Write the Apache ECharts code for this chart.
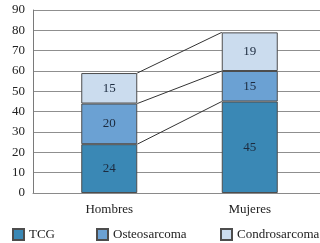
<!DOCTYPE html>
<html><head><meta charset="utf-8">
<script src="https://cdn.jsdelivr.net/npm/echarts@6/dist/echarts.min.js"></script>
<style>html,body{margin:0;padding:0;background:#fff}#c{width:320px;height:243px}</style>
</head><body><div id="c"></div>
<script>
var categories = ['Hombres', 'Mujeres'];
var seriesNames = ['TCG', 'Osteosarcoma', 'Condrosarcoma'];
var tcg = [24, 45];
var osteo = [20, 15];
var condro = [15, 19];
var yTicks = [0, 10, 20, 30, 40, 50, 60, 70, 80, 90];

var colors = ['#3a88b5', '#6ba1d3', '#cbdcee'];
var font = 'Liberation Serif';
var values = [tcg, osteo, condro];

// cumulative tops for connector lines
var connectors = [];
var cumH = 0, cumM = 0;
for (var i = 0; i < values.length; i++) {
  cumH += values[i][0]; cumM += values[i][1];
  connectors.push([0, cumH, cumM]);
}
var halfBar = 28;

var barSeries = values.map(function (v, i) {
  return {
    name: seriesNames[i], type: 'bar', stack: 'a', xAxisIndex: 1, yAxisIndex: 1,
    barWidth: 56, data: v,
    itemStyle: { color: colors[i], borderColor: '#4d4d4d', borderWidth: 1 },
    label: { show: true, position: 'inside', color: '#1c2b3f', fontFamily: font, fontSize: 13 }
  };
});

function legendAt(name, left) {
  return { data: [name], left: left, top: 228, padding: 0, icon: 'rect', itemWidth: 11, itemHeight: 11,
    textStyle: { fontFamily: font, fontSize: 13, color: '#222' } };
}

var option = {
  animation: false,
  grid: [
    { left: 33, right: 0, top: 10, bottom: 50 },
    { left: 39, right: -2, top: 10, bottom: 50 }
  ],
  xAxis: [
    { type: 'category', gridIndex: 0, data: [''], axisLine: { show: true, lineStyle: { color: '#8a8a8a' } }, axisTick: { show: false }, axisLabel: { show: false } },
    { type: 'category', gridIndex: 1, data: categories, axisLine: { show: false }, axisTick: { show: false },
      axisLabel: { color: '#222', fontFamily: font, fontSize: 13, margin: 10 } }
  ],
  yAxis: [
    { type: 'value', gridIndex: 0, min: yTicks[0], max: yTicks[yTicks.length - 1], interval: 10,
      axisLine: { show: true, lineStyle: { color: '#7a7a7a' } }, axisTick: { show: false },
      axisLabel: { color: '#222', fontFamily: font, fontSize: 13, margin: 8 },
      splitLine: { lineStyle: { color: '#8f8f8f', width: 1 } } },
    { type: 'value', gridIndex: 1, min: yTicks[0], max: yTicks[yTicks.length - 1], interval: 10, show: false, splitLine: { show: false } }
  ],
  legend: [legendAt(seriesNames[0], 12), legendAt(seriesNames[1], 96), legendAt(seriesNames[2], 220)],
  series: barSeries.concat([{
    type: 'custom', xAxisIndex: 1, yAxisIndex: 1, silent: true, z: 5,
    encode: { x: 0, y: 1 },
    data: connectors,
    renderItem: function (params, api) {
      var p0 = api.coord([0, api.value(1)]);
      var p1 = api.coord([1, api.value(2)]);
      return { type: 'line', shape: { x1: p0[0] + halfBar, y1: p0[1], x2: p1[0] - halfBar, y2: p1[1] },
        style: { stroke: '#333', lineWidth: 1 } };
    }
  }])
};
echarts.init(document.getElementById('c')).setOption(option);
</script></body></html>
